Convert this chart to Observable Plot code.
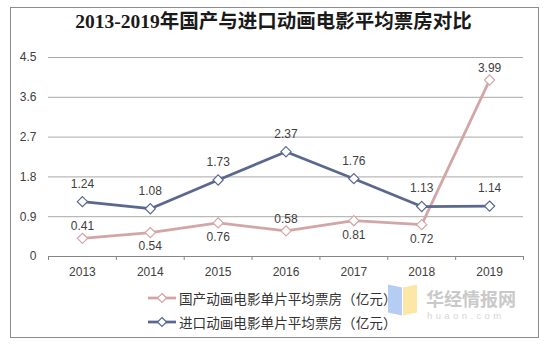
<!DOCTYPE html>
<html><head><meta charset="utf-8">
<script src="https://cdn.jsdelivr.net/npm/d3@7"></script>
<script src="https://cdn.jsdelivr.net/npm/@observablehq/plot@0.6"></script>
<style>
body{margin:0;background:#fff;}
#wrap{position:relative;width:555px;height:345px;overflow:hidden;font-family:"Liberation Sans",Arial,sans-serif;background:#fff;}
#frame{position:absolute;left:10px;top:7px;width:527px;height:329px;border:1px solid #8c8c8c;box-sizing:content-box;}
#title{position:absolute;left:0;width:547px;top:10px;line-height:24px;text-align:center;font-weight:600;font-size:19.5px;font-family:"Liberation Serif","Noto Sans CJK SC",serif;color:#1a1a1a;white-space:nowrap;}
#chart{position:absolute;left:0;top:0;}
.leg{position:absolute;left:147px;display:flex;align-items:center;height:20px;line-height:20px;font-size:13.6px;font-family:"Noto Sans CJK SC",sans-serif;color:#333;white-space:nowrap;}
.leg svg{margin-right:2px;}
#wm{position:absolute;left:426px;top:289px;height:18px;line-height:18px;font-family:"Noto Sans CJK SC",sans-serif;font-weight:700;font-size:18px;color:#c9c9c9;}
#wm2{position:absolute;left:427px;top:311px;height:9px;line-height:9px;font-family:"Liberation Sans",sans-serif;font-size:9.5px;color:#d6d6d6;letter-spacing:3.4px;}
#bk1{position:absolute;left:388px;top:286px;width:14px;height:28px;background:#b5cdf3;transform:skewY(12deg);}
#bk2{position:absolute;left:403px;top:286px;width:14px;height:28px;background:#fbe8a6;transform:skewY(-12deg);}
</style></head>
<body>
<div id="wrap">
  <div id="frame"></div>
  <div id="chart"></div>
  <div id="title"></div>
  <div id="bk1"></div><div id="bk2"></div>
  <div id="wm">华经情报网</div>
  <div id="wm2">huaon.com</div>
</div>
<script>
const titleText = "2013-2019年国产与进口动画电影平均票房对比";
const years = [2013, 2014, 2015, 2016, 2017, 2018, 2019];
const domestic = [0.41, 0.54, 0.76, 0.58, 0.81, 0.72, 3.99];
const imported = [1.24, 1.08, 1.73, 2.37, 1.76, 1.13, 1.14];
const domesticLabelAbove = [true, false, false, true, false, false, true];
const yTicks = [0, 0.9, 1.8, 2.7, 3.6, 4.5];
const seriesNames = ["国产动画电影单片平均票房（亿元）", "进口动画电影单片平均票房（亿元）"];
const seriesColors = ["#d4a5a6", "#5a6890"];

document.getElementById("title").textContent = titleText;

const domRows = years.map((y, i) => ({year: y, value: domestic[i], above: domesticLabelAbove[i]}));
const impRows = years.map((y, i) => ({year: y, value: imported[i]}));
const boundaries = [years[0] - 0.5, ...years.map(y => y + 0.5)];

const chart = Plot.plot({
  width: 555,
  height: 300,
  marginLeft: 48,
  marginRight: 32,
  marginTop: 57,
  marginBottom: 44,
  style: {fontFamily: "Liberation Sans, Arial, sans-serif", fontSize: "12px", color: "#404040", background: "transparent"},
  x: {domain: [years[0] - 0.5, years[years.length - 1] + 0.5], axis: null},
  y: {domain: [0, 4.5], axis: null},
  marks: [
    Plot.gridY(yTicks, {stroke: "#a8a8a8", strokeOpacity: 1}),
    Plot.axisY(yTicks, {tickSize: 0, tickPadding: 12, tickFormat: d => String(d), fontSize: 12, label: null}),
    Plot.ruleY([0], {stroke: "#868686"}),
    Plot.ruleX(boundaries, {y1: 0, y2: -0.09, stroke: "#868686"}),
    Plot.axisX(years, {tickSize: 0, tickPadding: 11, tickFormat: d => String(d), fontSize: 12, label: null}),
    Plot.line(domRows, {x: "year", y: "value", stroke: seriesColors[0], strokeWidth: 2.75}),
    Plot.line(impRows, {x: "year", y: "value", stroke: seriesColors[1], strokeWidth: 2.75}),
    Plot.dot(domRows, {x: "year", y: "value", symbol: "diamond2", r: 4.6, fill: "white", stroke: seriesColors[0], strokeWidth: 1.2}),
    Plot.dot(impRows, {x: "year", y: "value", symbol: "diamond2", r: 4.6, fill: "white", stroke: seriesColors[1], strokeWidth: 1.2}),
    Plot.text(impRows, {x: "year", y: "value", text: d => d.value.toFixed(2), dy: -18, fontSize: 12, fill: "#404040"}),
    Plot.text(domRows.filter(d => d.above), {x: "year", y: "value", text: d => d.value.toFixed(2), dy: -12, fontSize: 12, fill: "#404040"}),
    Plot.text(domRows.filter(d => !d.above), {x: "year", y: "value", text: d => d.value.toFixed(2), dy: 14, fontSize: 12, fill: "#404040"})
  ]
});
document.getElementById("chart").appendChild(chart);

const wrap = document.getElementById("wrap");
const legTops = [288, 312];
seriesNames.forEach((name, i) => {
  const div = document.createElement("div");
  div.className = "leg";
  div.style.top = legTops[i] + "px";
  const c = seriesColors[i];
  div.innerHTML = `<svg width="30" height="12"><line x1="1" y1="6" x2="29" y2="6" stroke="${c}" stroke-width="2.75"/><path d="M15,1.5L19.5,6L15,10.5L10.5,6Z" fill="white" stroke="${c}" stroke-width="1.2"/></svg>`;
  const span = document.createElement("span");
  span.textContent = name;
  div.appendChild(span);
  wrap.appendChild(div);
});
</script>
</body></html>
